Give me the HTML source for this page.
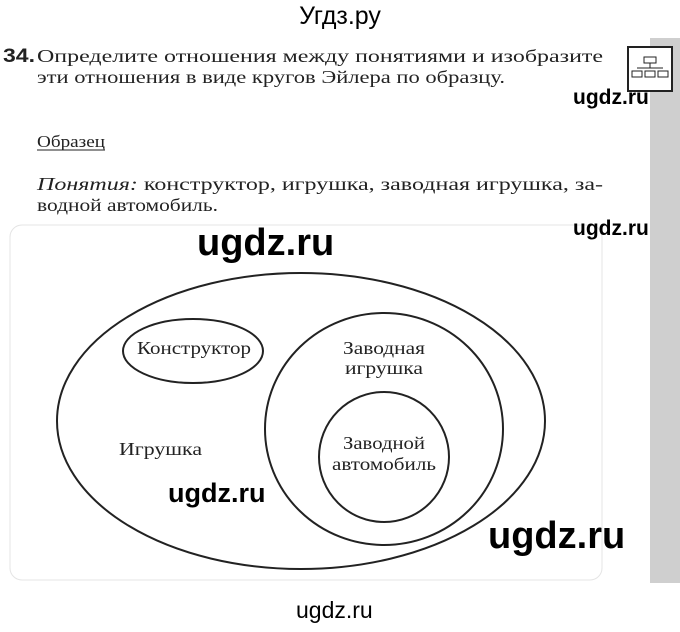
<!DOCTYPE html>
<html><head><meta charset="utf-8"><style>
body{margin:0;width:680px;height:632px;background:#fff;position:relative;overflow:hidden;font-family:"Liberation Serif",serif;color:#222}
.a{position:absolute;white-space:nowrap}
.w{font-family:"Liberation Sans",sans-serif;font-weight:bold;color:#000}
</style></head><body>
<div class="a" style="left:650px;top:38px;width:30px;height:545px;background:#cfcfcf"></div>
<div class="a w" style="left:0;width:680px;text-align:center;top:2px;font-size:25px;font-weight:normal">Угдз.ру</div>
<svg class="a" style="left:627px;top:46px" width="48" height="48"><rect x="1" y="1" width="44" height="44" fill="#fff" stroke="#222" stroke-width="2"/><rect x="17" y="11" width="12" height="6" fill="none" stroke="#222"/><line x1="23" y1="17" x2="23" y2="22" stroke="#222"/><line x1="10" y1="22" x2="36" y2="22" stroke="#222"/><rect x="5" y="25" width="10" height="6" fill="none" stroke="#222"/><rect x="18" y="25" width="10" height="6" fill="none" stroke="#222"/><rect x="31" y="25" width="10" height="6" fill="none" stroke="#222"/></svg>
<svg class="a" style="left:0;top:0" width="680" height="632">
<rect x="10" y="225" width="592" height="355" rx="12" fill="none" stroke="#e4e4e4"/>
<g font-family="Liberation Serif,serif" font-size="18" fill="#222">
<text x="3" y="62" font-family="Liberation Sans,sans-serif" font-weight="bold" font-size="19" textLength="32" lengthAdjust="spacingAndGlyphs">34.</text>
<text x="37" y="62" textLength="566" lengthAdjust="spacingAndGlyphs">Определите отношения между понятиями и изобразите</text>
<text x="37" y="83" textLength="468" lengthAdjust="spacingAndGlyphs">эти отношения в виде кругов Эйлера по образцу.</text>
<text x="37" y="147" font-size="17" textLength="68" lengthAdjust="spacingAndGlyphs">Образец</text>
<line x1="37" y1="150" x2="105" y2="150" stroke="#222"/>
<text x="37" y="190" textLength="566" lengthAdjust="spacingAndGlyphs"><tspan font-style="italic">Понятия:</tspan> конструктор, игрушка, заводная игрушка, за-</text>
<text x="37" y="211" textLength="181" lengthAdjust="spacingAndGlyphs">водной автомобиль.</text>
</g>
<g fill="none" stroke="#222" stroke-width="2">
<ellipse cx="301" cy="421" rx="244" ry="148"/>
<ellipse cx="193" cy="351" rx="70" ry="32"/>
<ellipse cx="384" cy="429" rx="119" ry="116"/>
<ellipse cx="384" cy="457" rx="65" ry="65"/>
</g>
<g font-family="Liberation Serif,serif" font-size="18" fill="#222">
<text x="137" y="354" textLength="114" lengthAdjust="spacingAndGlyphs">Конструктор</text>
<text x="343" y="354" textLength="82" lengthAdjust="spacingAndGlyphs">Заводная</text>
<text x="345" y="374" textLength="78" lengthAdjust="spacingAndGlyphs">игрушка</text>
<text x="343" y="449" textLength="82" lengthAdjust="spacingAndGlyphs">Заводной</text>
<text x="332" y="470" textLength="104" lengthAdjust="spacingAndGlyphs">автомобиль</text>
<text x="119" y="455" textLength="83" lengthAdjust="spacingAndGlyphs">Игрушка</text>
</g>
</svg>
<div class="a w" style="left:573px;top:86px;font-size:21px">ugdz.ru</div>
<div class="a w" style="left:573px;top:217px;font-size:21px">ugdz.ru</div>
<div class="a w" style="left:197px;top:222px;font-size:38px">ugdz.ru</div>
<div class="a w" style="left:168px;top:478px;font-size:27px">ugdz.ru</div>
<div class="a w" style="left:488px;top:515px;font-size:38px">ugdz.ru</div>
<div class="a w" style="left:296px;top:597px;font-size:23px;font-weight:normal">ugdz.ru</div>
</body></html>
